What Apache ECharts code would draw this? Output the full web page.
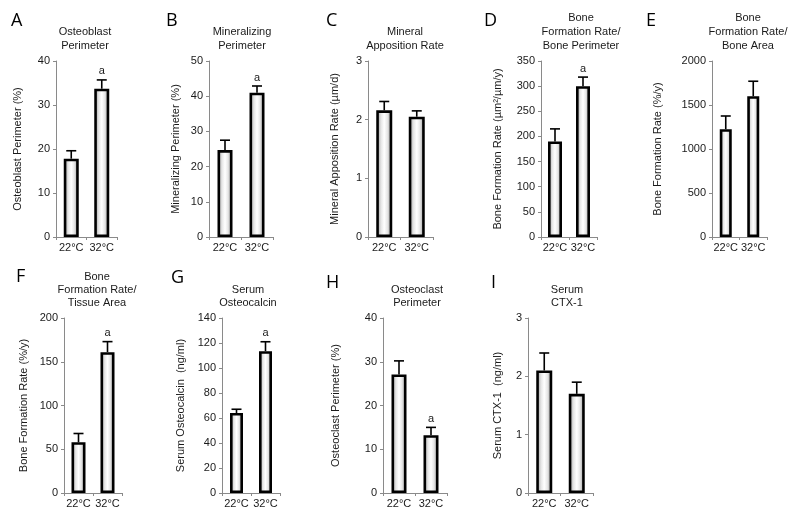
<!DOCTYPE html>
<html><head><meta charset="utf-8">
<script src="https://cdn.jsdelivr.net/npm/echarts@6/dist/echarts.min.js"></script>
<style>html,body{margin:0;padding:0;background:#fff}#c{width:800px;height:523px}</style>
</head><body><div id="c"></div>
<script>
// ---- data ----
const categories = ['22°C', '32°C'];
const panelLetters = ['A', 'B', 'C', 'D', 'E', 'F', 'G', 'H', 'I'];
const panelTitles = [
  'Osteoblast\nPerimeter',
  'Mineralizing\nPerimeter',
  'Mineral\nApposition Rate',
  'Bone\nFormation Rate/\nBone Perimeter',
  'Bone\nFormation Rate/\nBone Area',
  'Bone\nFormation Rate/\nTissue Area',
  'Serum\nOsteocalcin',
  'Osteoclast\nPerimeter',
  'Serum\nCTX-1'
];
const yAxisNames = [
  'Osteoblast Perimeter (%)',
  'Mineralizing Perimeter (%)',
  'Mineral Apposition Rate (µm/d)',
  'Bone Formation Rate (µm²/µm/y)',
  'Bone Formation Rate (%/y)',
  'Bone Formation Rate (%/y)',
  'Serum Osteocalcin  (ng/ml)',
  'Osteoclast Perimeter (%)',
  'Serum CTX-1  (ng/ml)'
];
const yMax = [40, 50, 3, 350, 2000, 200, 140, 40, 3];
const yInterval = [10, 10, 1, 50, 500, 50, 20, 10, 1];

const meanA = [17.8, 33.7];  const errA = [1.8, 2.0];  const sigA = ['', 'a'];
const meanB = [24.7, 41.0];  const errB = [2.8, 1.9];  const sigB = ['', 'a'];
const meanC = [2.16, 2.05];  const errC = [0.15, 0.10]; const sigC = ['', ''];
const meanD = [190, 300];    const errD = [25, 18];    const sigD = ['', 'a'];
const meanE = [1225, 1600];  const errE = [150, 170];  const sigE = ['', ''];
const meanF = [58, 161];     const errF = [10, 12];    const sigF = ['', 'a'];
const meanG = [64, 113.5];   const errG = [3, 7.5];    const sigG = ['', 'a'];
const meanH = [27.1, 13.2];  const errH = [3.1, 1.8];  const sigH = ['', 'a'];
const meanI = [2.10, 1.70];  const errI = [0.30, 0.20]; const sigI = ['', ''];

const means = [meanA, meanB, meanC, meanD, meanE, meanF, meanG, meanH, meanI];
const errs = [errA, errB, errC, errD, errE, errF, errG, errH, errI];
const sigs = [sigA, sigB, sigC, sigD, sigE, sigF, sigG, sigH, sigI];

// ---- layout (positions / styles only) ----
const gridLayout = [
  {left: 56, width: 61, top: 61, height: 176},
  {left: 209, width: 64, top: 61, height: 176},
  {left: 368, width: 65, top: 61, height: 176},
  {left: 541, width: 56, top: 61, height: 176},
  {left: 712, width: 55, top: 61, height: 176},
  {left: 64, width: 58, top: 318, height: 175},
  {left: 222, width: 58, top: 318, height: 175},
  {left: 383, width: 64, top: 318, height: 175},
  {left: 528, width: 65, top: 318, height: 175}
];
const barWidths = [15, 15, 16, 14, 12, 14, 13, 15, 16];
const nameGaps = [33, 28, 28, 38, 49, 35, 36, 42, 25];
const titlePos = [
  [85, 39], [242, 39], [405, 39], [581, 32], [748, 32],
  [97, 290], [248, 296.5], [417, 296.5], [567, 296.5]
];
const titleLineH = [14, 14, 14, 14, 14, 13.3, 13.3, 13.3, 13.3];
const letterPos = [
  [11, 12], [166, 12], [326, 12], [484, 12], [646, 12],
  [16, 268], [171, 269], [326, 274], [491, 274]
];

const FONT = 'Liberation Sans, Arial, sans-serif';
const barFill = {
  type: 'linear', x: 0, y: 0, x2: 1, y2: 0,
  colorStops: [
    {offset: 0, color: '#8c8c8c'},
    {offset: 0.3, color: '#e6e6e6'},
    {offset: 0.5, color: '#ffffff'},
    {offset: 0.7, color: '#e6e6e6'},
    {offset: 1, color: '#8c8c8c'}
  ]
};

const grid = [], xAxis = [], yAxis = [], series = [], graphic = [];
for (let p = 0; p < 9; p++) {
  grid.push(Object.assign({containLabel: false}, gridLayout[p]));
  xAxis.push({
    type: 'category', gridIndex: p, data: categories,
    axisLine: {lineStyle: {color: '#8a8a8a', width: 1}},
    axisTick: {show: true, length: 3, lineStyle: {color: '#8a8a8a'}},
    axisLabel: {fontSize: 11, color: '#1a1a1a', margin: 5, fontFamily: FONT, interval: 0}
  });
  yAxis.push({
    type: 'value', gridIndex: p, min: 0, max: yMax[p], interval: yInterval[p],
    name: yAxisNames[p], nameLocation: 'middle', nameGap: nameGaps[p], nameRotate: 90,
    nameTextStyle: {fontSize: 11, color: '#1a1a1a', fontFamily: FONT},
    axisLine: {show: true, lineStyle: {color: '#8a8a8a', width: 1}},
    axisTick: {show: true, length: 3, lineStyle: {color: '#8a8a8a'}},
    splitLine: {show: false},
    axisLabel: {fontSize: 11, color: '#1a1a1a', margin: 6, fontFamily: FONT,
      formatter: function (v) { return String(v); }}
  });
  series.push({
    type: 'bar', xAxisIndex: p, yAxisIndex: p, barWidth: barWidths[p],
    data: means[p],
    itemStyle: {color: barFill, borderColor: '#000', borderWidth: 2.6},
    silent: true, z: 2
  });
  const sig = sigs[p];
  series.push({
    type: 'custom', xAxisIndex: p, yAxisIndex: p, z: 3, silent: true,
    data: means[p].map((m, i) => [i, m, errs[p][i]]),
    encode: {x: 0, y: 1},
    renderItem: function (params, api) {
      const i = api.value(0), m = api.value(1), e = api.value(2);
      const base = api.coord([i, m]);
      const top = api.coord([i, m + e]);
      const children = [
        {type: 'line', shape: {x1: base[0], y1: base[1], x2: top[0], y2: top[1]},
          style: {stroke: '#000', lineWidth: 1.6}},
        {type: 'line', shape: {x1: top[0] - 5, y1: top[1], x2: top[0] + 5, y2: top[1]},
          style: {stroke: '#000', lineWidth: 1.6}}
      ];
      const s = sig[params.dataIndex];
      if (s) {
        children.push({type: 'text', x: top[0], y: top[1] - 3,
          style: {text: s, font: '11px ' + FONT, fill: '#1a1a1a', align: 'center', verticalAlign: 'bottom'}});
      }
      return {type: 'group', children: children};
    }
  });
  graphic.push({
    type: 'text', x: titlePos[p][0], y: titlePos[p][1],
    style: {text: panelTitles[p], font: '11px ' + FONT, fill: '#1a1a1a', align: 'center',
      verticalAlign: 'middle', lineHeight: titleLineH[p]}
  });
  graphic.push({
    type: 'text', x: letterPos[p][0], y: letterPos[p][1],
    style: {text: panelLetters[p], font: '18px Open Sans, sans-serif', fill: '#000', align: 'left', verticalAlign: 'top'}
  });
}

const chart = echarts.init(document.getElementById('c'), null, {renderer: 'canvas'});
chart.setOption({
  backgroundColor: '#fff',
  animation: false,
  grid: grid, xAxis: xAxis, yAxis: yAxis, series: series, graphic: graphic
});
</script></body></html>
